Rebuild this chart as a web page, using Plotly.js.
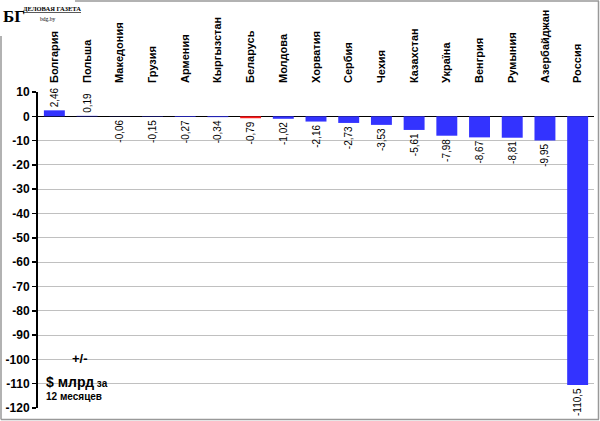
<!DOCTYPE html>
<html>
<head>
<meta charset="utf-8">
<script src="https://cdn.plot.ly/plotly-3.0.1.min.js"></script>
<style>
html,body{margin:0;padding:0;background:#fff;}
#chart{width:600px;height:421px;}
</style>
</head>
<body>
<div id="chart"></div>
<script>
const countries = ["Болгария","Польша","Македония","Грузия","Армения","Кыргызстан","Беларусь","Молдова","Хорватия","Сербия","Чехия","Казахстан","Украïна","Венгрия","Румыния","Азербайджан","Россия"];
const changes = [2.46, 0.19, -0.06, -0.15, -0.27, -0.34, -0.79, -1.02, -2.16, -2.73, -3.53, -5.61, -7.98, -8.67, -8.81, -9.95, -110.5];
const highlight = "Беларусь";
const yTicks = [10, 0, -10, -20, -30, -40, -50, -60, -70, -80, -90, -100, -110, -120];

const fmt = v => String(v).replace('.', ',');
const barColors = countries.map(c => c === highlight ? '#ff1a1a' : '#3333ff');

const L = 38, R = 594, T = 92, B = 408;
const px = x => (x - L) / (R - L);
const py = y => (B - y) / (B - T);

const trace = {
  type: 'bar',
  x: countries,
  y: changes,
  marker: {color: barColors, line: {width: 0}},
  text: changes.map(fmt),
  textposition: 'outside',
  textangle: -90,
  constraintext: 'none',
  cliponaxis: false,
  textfont: {family: 'Liberation Sans, Arial, sans-serif', size: 10, color: '#000'},
  hoverinfo: 'none'
};

const layout = {
  width: 600, height: 421,
  margin: {l: L, r: 600 - R, t: T, b: 421 - B},
  paper_bgcolor: '#fff', plot_bgcolor: '#fff',
  showlegend: false,
  bargap: 0.36,
  font: {family: 'Liberation Sans, Arial, sans-serif', color: '#000'},
  xaxis: {
    side: 'top',
    type: 'category',
    tickangle: -90,
    ticks: '',
    ticklabelstandoff: 8,
    tickfont: {size: 11, weight: 'bold', color: '#000'},
    showgrid: false,
    showline: false,
    zeroline: false,
    fixedrange: true
  },
  yaxis: {
    range: [-120, 10],
    tickvals: yTicks,
    ticktext: yTicks.map(v => String(v)),
    tickfont: {size: 12, weight: 'bold', color: '#000'},
    ticks: 'outside', ticklen: 4, tickcolor: '#000', tickwidth: 1.5,
    showline: true, linecolor: '#000', linewidth: 2,
    showgrid: true, gridcolor: '#c0c0c0', gridwidth: 1,
    zeroline: true, zerolinecolor: '#000', zerolinewidth: 1.5,
    fixedrange: true
  },
  shapes: [
    {type: 'line', xref: 'paper', yref: 'paper', x0: px(75), x1: px(599), y0: py(1), y1: py(1), line: {color: '#999', width: 1.5}},
    {type: 'line', xref: 'paper', yref: 'paper', x0: px(598.5), x1: px(598.5), y0: py(1), y1: py(419.5), line: {color: '#999', width: 1.5}},
    {type: 'line', xref: 'paper', yref: 'paper', x0: px(1), x1: px(599), y0: py(419.5), y1: py(419.5), line: {color: '#999', width: 1.5}},
    {type: 'line', xref: 'paper', yref: 'paper', x0: px(1), x1: px(1), y0: py(36), y1: py(419.5), line: {color: '#999', width: 1.5}}
  ],
  annotations: [
    {xref: 'paper', yref: 'paper', x: px(1), y: py(16), xanchor: 'left', yanchor: 'middle', showarrow: false,
     text: '<b>БГ</b>', font: {family: 'Liberation Serif, serif', size: 17, color: '#000'}},
    {xref: 'paper', yref: 'paper', x: px(21), y: py(9), xanchor: 'left', yanchor: 'middle', showarrow: false,
     text: '<b><u>ДЕЛОВАЯ ГАЗЕТА</u></b>', font: {family: 'Liberation Serif, serif', size: 6.5, color: '#000'}},
    {xref: 'paper', yref: 'paper', x: px(47), y: py(19), xanchor: 'center', yanchor: 'middle', showarrow: false,
     text: 'bdg.by', font: {family: 'Liberation Serif, serif', size: 5.5, color: '#000'}},
    {xref: 'paper', yref: 'paper', x: px(80), y: py(358), xanchor: 'center', yanchor: 'middle', showarrow: false,
     text: '<b>+/-</b>', font: {size: 13, color: '#000'}},
    {xref: 'paper', yref: 'paper', x: px(44), y: py(382), xanchor: 'left', yanchor: 'middle', showarrow: false,
     text: '<b><span style="font-size:14px">$ млрд</span> за</b>', font: {size: 10, color: '#000'}},
    {xref: 'paper', yref: 'paper', x: px(44), y: py(396), xanchor: 'left', yanchor: 'middle', showarrow: false,
     text: '<b>12 месяцев</b>', font: {size: 10, color: '#000'}}
  ]
};

Plotly.newPlot('chart', [trace], layout, {displayModeBar: false, staticPlot: true});
</script>
</body>
</html>
